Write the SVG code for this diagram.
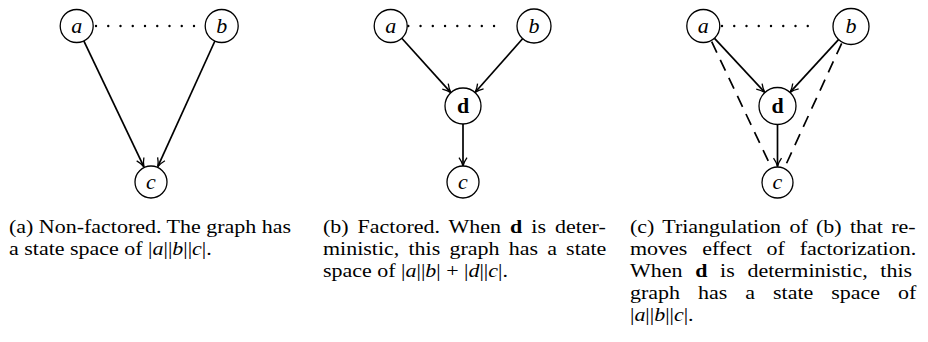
<svg xmlns="http://www.w3.org/2000/svg" width="928" height="342" viewBox="0 0 928 342">
<style>
.node circle{fill:#fff;stroke:#000;stroke-width:1.3}
.lbl{font-family:"Liberation Serif","Times New Roman",serif;font-size:22px;font-style:italic;text-anchor:middle;dominant-baseline:central}
.bold{font-style:normal;font-weight:bold}
.edge{stroke:#000;stroke-width:1.7;fill:none;marker-end:url(#arr)}
.dot{stroke:#000;stroke-width:2.4;stroke-linecap:round;stroke-dasharray:0 12.25;fill:none}
.dash{stroke:#000;stroke-width:1.7;stroke-dasharray:12 8;fill:none}
.cap{font-family:"Liberation Serif","Times New Roman",serif;font-size:19.8px;fill:#000}
.i{font-style:italic}
.b{font-weight:bold}
</style>
<defs>
<marker id="arr" viewBox="0 0 10 10" refX="9.2" refY="5" markerWidth="10" markerHeight="10" markerUnits="userSpaceOnUse" orient="auto">
<path d="M0.8,1 Q5,4 9.2,5 Q5,6 0.8,9" fill="none" stroke="#000" stroke-width="1.3"/>
</marker>
</defs>
<g id="connectors">
<line class="dot" x1="96" y1="26" x2="194.3" y2="26"/>
<line class="edge" x1="83.8" y1="40.9" x2="143.9" y2="166.8"/>
<line class="edge" x1="214.9" y1="41" x2="157.8" y2="166.7"/>
<line class="dot" x1="408.3" y1="26" x2="506" y2="26"/>
<line class="edge" x1="401.8" y1="38.2" x2="450.9" y2="92.6"/>
<line class="edge" x1="523" y1="38.3" x2="475" y2="92.5"/>
<line class="edge" x1="463" y1="124" x2="463" y2="166"/>
<line class="dot" x1="722" y1="26" x2="820" y2="26"/>
<line class="edge" x1="714.3" y1="38.1" x2="764.9" y2="92.5"/>
<line class="edge" x1="839.2" y1="38.9" x2="790" y2="92.4"/>
<line class="edge" x1="777.5" y1="124.5" x2="777.5" y2="166.5"/>
<line class="dash" x1="711.7" y1="41.7" x2="771.7" y2="168.3"/>
<line class="dash" x1="841.7" y1="43.3" x2="785" y2="166.7"/>
</g>
<g id="a1" class="node"><circle cx="76.7" cy="26" r="16.5"/><text class="lbl" x="76.7" y="25">a</text></g>
<g id="b1" class="node"><circle cx="221.7" cy="26" r="16.5"/><text class="lbl" x="221.7" y="25">b</text></g>
<g id="c1" class="node"><circle cx="151" cy="182" r="16"/><text class="lbl" x="151" y="181">c</text></g>

<g id="a2" class="node"><circle cx="390.7" cy="26" r="16.5"/><text class="lbl" x="390.7" y="25">a</text></g>
<g id="b2" class="node"><circle cx="534" cy="26" r="17"/><text class="lbl" x="534" y="25">b</text></g>
<g id="d2" class="node"><circle cx="463" cy="106" r="18"/><text class="lbl bold" x="463" y="105">d</text></g>
<g id="c2" class="node"><circle cx="463" cy="182" r="16"/><text class="lbl" x="463" y="181">c</text></g>

<g id="a3" class="node"><circle cx="703.3" cy="26" r="16.5"/><text class="lbl" x="703.3" y="25">a</text></g>
<g id="b3" class="node"><circle cx="851" cy="26.5" r="18"/><text class="lbl" x="851" y="25.5">b</text></g>
<g id="d3" class="node"><circle cx="777.5" cy="106" r="18.5"/><text class="lbl bold" x="777.5" y="105">d</text></g>
<g id="c3" class="node"><circle cx="777.5" cy="182.5" r="15.5"/><text class="lbl" x="777.5" y="181.5">c</text></g>

<g id="captions" transform="scale(1.1111,1)">
<text class="cap" x="8.1" y="233">(a) Non-factored. The graph has</text>
<text class="cap" x="8.1" y="255">a state space of |<tspan class="i">a</tspan>||<tspan class="i">b</tspan>||<tspan class="i">c</tspan>|.</text>

<text class="cap" x="290.7" y="233" word-spacing="3.15">(b) Factored. When <tspan class="b">d</tspan> is deter-</text>
<text class="cap" x="290.7" y="255" word-spacing="3.33">ministic, this graph has a state</text>
<text class="cap" x="290.7" y="277">space of |<tspan class="i">a</tspan>||<tspan class="i">b</tspan>| + |<tspan class="i">d</tspan>||<tspan class="i">c</tspan>|.</text>

<text class="cap" x="567" y="233" word-spacing="2.52">(c) Triangulation of (b) that re-</text>
<text class="cap" x="567" y="255" word-spacing="8.37">moves effect of factorization.</text>
<text class="cap" x="567" y="277" word-spacing="6.48">When <tspan class="b">d</tspan> is deterministic, this</text>
<text class="cap" x="567" y="299" word-spacing="11.25">graph has a state space of</text>
<text class="cap" x="567" y="321">|<tspan class="i">a</tspan>||<tspan class="i">b</tspan>||<tspan class="i">c</tspan>|.</text>
</g>
</svg>
